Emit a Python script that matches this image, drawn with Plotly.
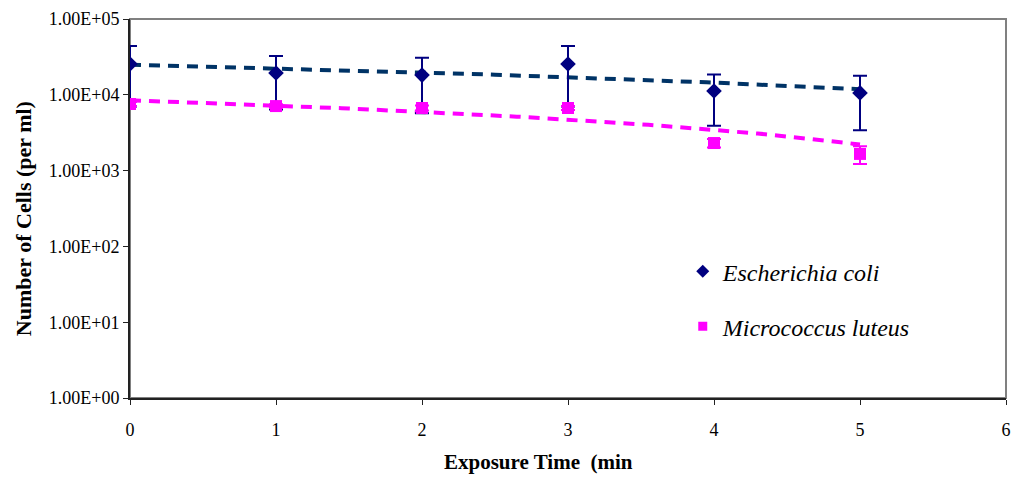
import numpy as np
import plotly.graph_objects as go

# ---- data ----
time_min = [0, 1, 2, 3, 4, 5]
ecoli = [25500, 19400, 18200, 25500, 11200, 10600]
ecoli_err = [18500, 13000, 12500, 18500, 7300, 7200]
mluteus = [7560, 7100, 6700, 6700, 2310, 1660]
mluteus_err = [500, 400, 500, 400, 300, 440]

x_ticks = [0, 1, 2, 3, 4, 5, 6]
y_tickvals = [1, 10, 100, 1000, 10000, 100000]
y_ticktext = ["1.00E+00", "1.00E+01", "1.00E+02", "1.00E+03", "1.00E+04", "1.00E+05"]

NAVY = "#000080"
TREND_NAVY = "#003366"
MAGENTA = "#FF00FF"
SERIF = "Liberation Serif, Times New Roman, serif"

# linear trendlines (as in the spreadsheet), drawn on the log axis
xt = np.linspace(min(time_min), max(time_min), 101)
ec_fit = np.polyfit(time_min, ecoli, 1)
ml_fit = np.polyfit(time_min, mluteus, 1)

fig = go.Figure()

fig.add_trace(go.Scatter(
    x=xt, y=np.polyval(ec_fit, xt), mode="lines",
    line=dict(color=TREND_NAVY, width=4, dash="11px,8px"),
    showlegend=False, hoverinfo="skip"))
fig.add_trace(go.Scatter(
    x=xt, y=np.polyval(ml_fit, xt), mode="lines",
    line=dict(color=MAGENTA, width=4, dash="11px,8px"),
    showlegend=False, hoverinfo="skip"))

fig.add_trace(go.Scatter(
    x=time_min, y=ecoli, mode="markers",
    marker=dict(symbol="diamond", size=12, color=NAVY),
    error_y=dict(type="data", array=ecoli_err, color=NAVY, thickness=2, width=7),
    showlegend=False))
fig.add_trace(go.Scatter(
    x=time_min, y=mluteus, mode="markers",
    marker=dict(symbol="square", size=12, color=MAGENTA),
    error_y=dict(type="data", array=mluteus_err, color=MAGENTA, thickness=2, width=7),
    showlegend=False))

# legend entries (smaller symbols, like the reference legend)
fig.add_trace(go.Scatter(
    x=[None], y=[None], mode="markers", name="<i>Escherichia coli</i>",
    marker=dict(symbol="diamond", size=10, color=NAVY), legendgroup="a"))
fig.add_trace(go.Scatter(
    x=[None], y=[None], mode="markers", name="<i>Micrococcus luteus</i>",
    marker=dict(symbol="square", size=9, color=MAGENTA), legendgroup="b"))

fig.update_layout(
    width=1019, height=477,
    margin=dict(l=130, r=8, t=19, b=79),
    paper_bgcolor="white", plot_bgcolor="white",
    font=dict(family=SERIF, size=18, color="black"),
    legend=dict(x=0.631, y=0.393, xanchor="left", yanchor="top",
                font=dict(family=SERIF, size=24, color="black"),
                bgcolor="rgba(0,0,0,0)", tracegroupgap=21),
    shapes=[dict(type="rect", xref="paper", yref="paper", x0=0, y0=0, x1=1, y1=1,
                 line=dict(color="#808080", width=2), layer="below")],
    annotations=[
        dict(text="<b>Exposure Time  (min</b>", xref="paper", yref="paper",
             x=(541 - 130) / 881, y=-0.168, xanchor="center", yanchor="middle",
             showarrow=False, font=dict(family=SERIF, size=21, color="black")),
        dict(text="<b>Number of Cells (per ml)</b>", xref="paper", yref="paper",
             x=-0.122, y=(398 - 219) / 379, xanchor="center", yanchor="middle",
             textangle=-90, showarrow=False,
             font=dict(family=SERIF, size=22, color="black")),
    ],
)

fig.update_xaxes(range=[0, 6], tickvals=x_ticks, showgrid=False, zeroline=False,
                 showline=True, linecolor="#222222", linewidth=2,
                 ticks="outside", ticklen=5, tickwidth=1, tickcolor="#222222",
                 ticklabelstandoff=9, tickfont=dict(family=SERIF, size=18))
fig.update_yaxes(type="log", range=[0, 5], tickvals=y_tickvals, ticktext=y_ticktext,
                 showgrid=False, zeroline=False,
                 showline=True, linecolor="#222222", linewidth=2,
                 ticks="outside", ticklen=5, tickwidth=1, tickcolor="#222222",
                 tickfont=dict(family=SERIF, size=18))

fig.write_html("out.html")
